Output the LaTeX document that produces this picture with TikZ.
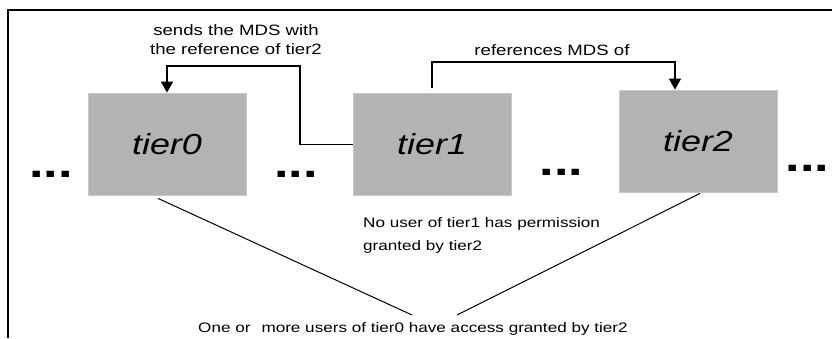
\documentclass[tikz,border=0pt]{standalone}
\usepackage{fontspec}
\setmainfont{Liberation Sans}[FakeStretch=1.24]
\usetikzlibrary{arrows.meta}
\definecolor{boxgray}{HTML}{B3B3B3}
\definecolor{boxedge}{HTML}{C8C8C8}
\begin{document}
\begin{tikzpicture}[x=1pt,y=-1pt,
  tierbox/.style={fill=boxgray,draw=boxedge,line width=0.8pt,minimum width=158pt,minimum height=102pt,inner sep=0pt,font=\fontsize{29}{34}\selectfont\itshape},
  lbl/.style={inner sep=0pt,font=\fontsize{15}{19.5}\selectfont},
  lbls/.style={inner sep=0pt,font=\fontsize{13.8}{23}\selectfont},
  dotrow/.style={inner sep=0pt,anchor=base,font=\fontsize{42}{42}\selectfont\bfseries},
  conn/.style={line width=1pt},
  arr/.style={line width=1.2pt,-{Triangle[width=12pt,length=11pt]}}]
\useasboundingbox (0,0) rectangle (832,338);
\draw[line width=2.5pt] (8,338) -- (8,10) -- (832,10);
% tiers
\node[tierbox] (t0) at (167,144) {tier0};
\node[tierbox] (t1) at (432,144.5) {tier1};
\node[tierbox] (t2) at (698,141) {tier2};
% dots
\node[dotrow] (g1) at (51,177.8) {...};
\node[dotrow] (g2) at (296,177.8) {...};
\node[dotrow] (g3) at (561.5,175.8) {...};
\node[dotrow] (g4) at (807.5,171.8) {...};
% labels
\node[lbl,align=center,anchor=north] (l1) at (236,24) {sends the MDS with\\the reference of tier2};
\node[lbl,anchor=base] (l2) at (552,55) {references MDS of};
\node[lbls,align=left,anchor=north west] (l3) at (363,217) {No user of tier1 has permission\\granted by tier2};
\node[lbls,anchor=base west] (bt) at (198,332) {One or\hspace{11pt}more users of tier0 have access granted by tier2};
% connectors
\coordinate (k1) at (300,66);
\coordinate (k2) at (675,62);
\draw[arr] (t1.west) -| (k1) -| (t0.north);
\draw[arr] ([yshift=5pt]t1.north) |- (k2) -- (k2 |- t2.north);
\coordinate (e0) at (412,315);
\coordinate (e2) at (457,315);
\draw[conn] ([shift={(-9,3)}]t0.south) -- (e0);
\draw[conn] ([shift={(2,1)}]t2.south) -- (e2);
\end{tikzpicture}
\end{document}
